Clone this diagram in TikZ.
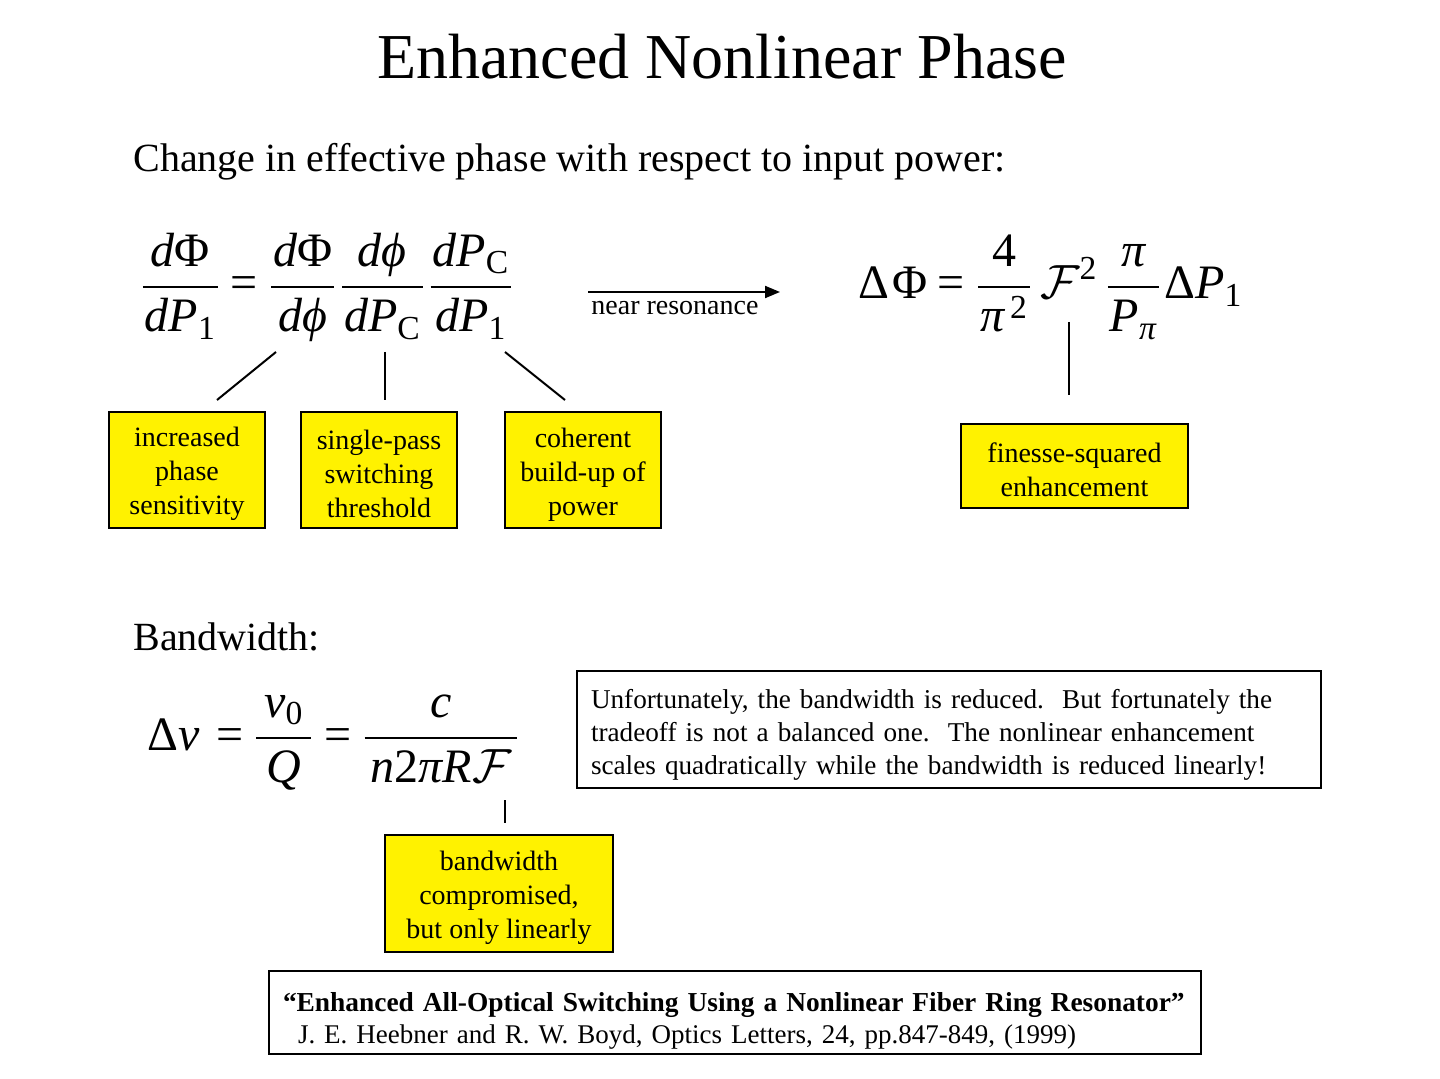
\documentclass[tikz,border=0pt]{standalone}
\usepackage{fix-cm}
\usepackage{amsmath}
\usepackage{fontspec}
\setmainfont{Liberation Serif}
\usepackage{tikz}
\usetikzlibrary{positioning,arrows.meta}

\newcommand{\ti}[1]{\textit{#1}}
\newcommand{\tx}[1]{\text{#1}}
\newcommand{\scrF}{\mathcal{F}}
\newcommand{\eq}{\mathrel{\text{=}}}
\newcommand{\fsp}{\hspace{1.5pt}}
\newcommand{\fr}[2]{\frac{\hspace{1pt}#1\hspace{1pt}}{\hspace{1pt}#2\hspace{1pt}}}
\newcommand{\up}{\rule{0pt}{14pt}}
\thickmuskip=4mu

\tikzset{
	note/.style={draw=black, fill=yellow, line width=1.2pt, align=center, inner sep=0pt, font=\fontsize{14}{17}\selectfont},
	textbox/.style={draw=black, line width=1.2pt, align=left, inner sep=0pt, font=\fontsize{13.6}{16.5}\selectfont},
	lead/.style={line width=1pt},
	eqn/.style={inner sep=0pt, font=\fontsize{24}{28}\selectfont}
}

\begin{document}
\begin{tikzpicture}[x=0.5pt, y=-0.5pt]
		\useasboundingbox (0, 0) rectangle (1440, 1079);
		
		\node[inner sep=0pt, anchor=base, font=\fontsize{32}{36}\selectfont] (title) at (722, 79) {Enhanced Nonlinear Phase};
		\node[inner sep=0pt, anchor=base west, font=\fontsize{20}{24}\selectfont] (change) at (133, 172) {Change in effective phase with respect to input power:};
		\node[inner sep=0pt, anchor=base west, font=\fontsize{20}{24}\selectfont] (bwhead) at (133, 650) {Bandwidth:};
		
		% derivative chain and its result near resonance
		\node[eqn, anchor=base west] (chain) at (140, 299)
			{$\displaystyle\fr{\ti{d}\tx{Φ}}{\ti{dP}_{\tx{1}}}\eq\fr{\ti{d}\tx{Φ}}{\ti{dϕ}}\fsp\fr{\ti{dϕ}}{\ti{dP}_{\tx{C}}}\fsp\fr{\ti{dP}_{\tx{C}}}{\ti{dP}_{\tx{1}}}$};
		\node[eqn, anchor=base west] (result) at (858, 299)
			{$\displaystyle\tx{Δ\hspace{1.5pt}Φ}\eq\fr{\tx{4}}{\ti{π}^{\hspace{3pt}\tx{2}}}\,\scrF^{\tx{2}}\,\fr{\ti{π}}{\ti{P}_{\ti{π}}}\fsp\tx{Δ}\ti{P}_{\tx{1}}$};
		\node[eqn, anchor=base west] (bandwidth) at (147, 750)
			{$\displaystyle\tx{Δ}\ti{ν}\hspace{3pt}\eq\fr{\hspace{3pt}\ti{ν}_{\tx{0}}\hspace{3pt}}{\ti{Q}}\eq\fr{\hspace{2pt}\ti{c}\hspace{2pt}}{\hspace{2pt}\ti{n}\tx{2}\ti{πR}\scrF\hspace{2pt}}$};
		
		\coordinate (arrA) at (588, 292);
		\coordinate (arrB) at (780, 292);
		\path[-{Triangle[length=7.5pt,width=6pt]}, line width=1pt] (arrA) edge (arrB);
		\node[inner sep=0pt, anchor=base west, font=\fontsize{14}{17}\selectfont] (near) at (591, 315) {near resonance};
		
		% yellow notes
		\node[note, minimum width=78pt, minimum height=58pt] (sens) at (187, 470) {\up increased\\phase\\sensitivity};
		\node[note, minimum width=78pt, minimum height=58pt] (thresh) at (379, 470) {\up single-pass\\switching\\threshold};
		\node[note, minimum width=78pt, minimum height=58pt] (build) at (583, 470) {\up coherent\\build-up of\\power};
		\node[note, minimum width=113.5pt, minimum height=42pt] (fin) at (1074.5, 466) {\up finesse-squared\\enhancement};
		\node[note, minimum width=114pt, minimum height=58.5pt] (comp) at (499, 893.5) {\up bandwidth\\compromised,\\but only linearly};
		
		\node[textbox, minimum width=372pt, minimum height=58.5pt, text width=358pt] (trade) at (949, 729.5)
			{\rule{0pt}{15pt}Unfortunately, the bandwidth is reduced.\ \ But fortunately the\\tradeoff is not a balanced one.\ \ The nonlinear enhancement\\scales quadratically while the bandwidth is reduced linearly!};
		\node[textbox, minimum width=466pt, minimum height=41.5pt, text width=452pt, font=\fontsize{13.5}{16}\selectfont] (ref) at (735, 1012.5)
			{\rule{0pt}{18pt}{\fontsize{13.7}{16}\selectfont\textbf{“Enhanced All-Optical Switching Using a Nonlinear Fiber Ring Resonator”}}\\\hspace*{7.5pt}J. E. Heebner and R. W. Boyd, Optics Letters, 24, pp.847-849, (1999)};
		
		% leader lines
		\coordinate (s1) at (276, 352);
		\coordinate (e1) at (217, 400);
		\coordinate (s2) at (385, 352);
		\coordinate (e2) at (385, 400);
		\coordinate (s3) at (505, 352);
		\coordinate (e3) at (565, 400);
		\coordinate (s4) at (1069, 322);
		\coordinate (e4) at (1069, 395);
		\coordinate (s5) at (505, 800);
		\coordinate (e5) at (505, 823);
		\path[lead] (s1) edge (e1);
		\path[lead] (s2) edge (e2);
		\path[lead] (s3) edge (e3);
		\path[lead] (s4) edge (e4);
		\path[lead] (s5) edge (e5);
		\end{tikzpicture}
\end{document}
